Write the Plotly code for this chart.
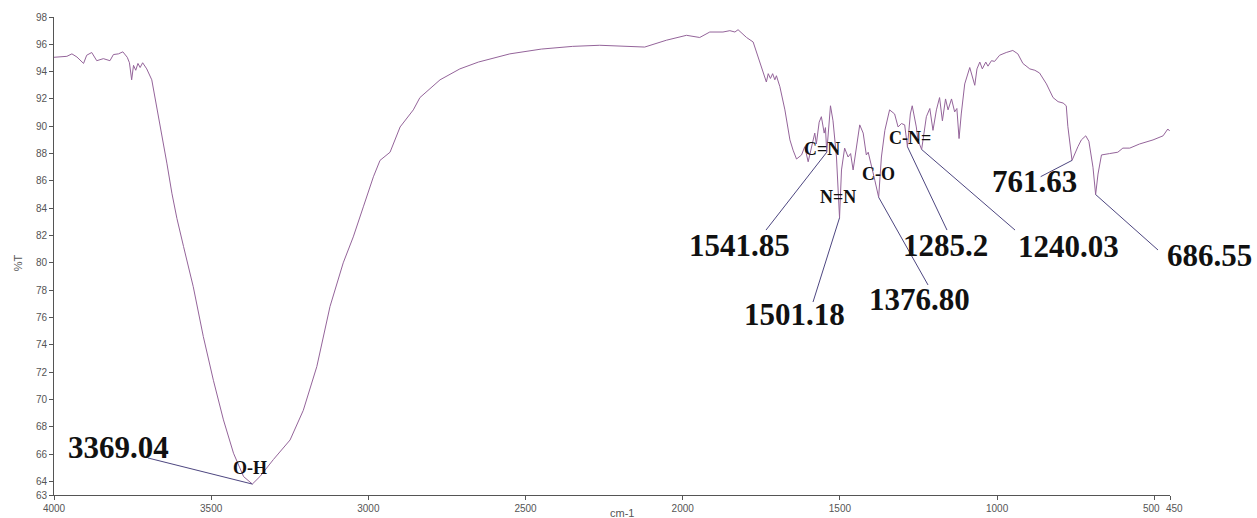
import plotly.graph_objects as go
import numpy as np

# FTIR spectrum: wavenumber (cm-1) and transmittance (%T)
wavenumber = [
    4000, 3959, 3943, 3927, 3906, 3896, 3880, 3864, 3843, 3822, 3811, 3795, 3781,
    3767, 3760, 3753, 3747, 3740, 3733, 3726, 3718, 3705, 3689, 3673, 3657, 3641,
    3625, 3609, 3588, 3557, 3525, 3493, 3461, 3429, 3397, 3369.04, 3345, 3302,
    3249, 3207, 3164, 3122, 3080, 3048, 3016, 2984, 2963, 2931, 2899, 2857, 2836,
    2772, 2709, 2650, 2550, 2450, 2350, 2264, 2121, 2052, 1988, 1946, 1914, 1872,
    1850, 1834, 1824, 1797, 1776, 1760, 1744, 1734, 1728, 1721, 1714, 1707, 1702,
    1691, 1675, 1659, 1649, 1638, 1622, 1612, 1601, 1590, 1580, 1575, 1566, 1559,
    1550, 1546, 1541.85, 1530, 1522, 1511, 1501.18, 1495, 1485, 1474, 1466, 1458,
    1447, 1437, 1426, 1416, 1410, 1400, 1389, 1376.80, 1368, 1357, 1342, 1326,
    1315, 1304, 1294, 1285.2, 1276, 1270, 1257, 1252, 1240.03, 1225, 1214, 1204,
    1193, 1183, 1174, 1164, 1156, 1145, 1135, 1128, 1121, 1114, 1103, 1087, 1079,
    1071, 1064, 1055, 1047, 1036, 1029, 1018, 1008, 992, 971, 950, 934, 918, 896,
    880, 865, 843, 822, 806, 790, 780, 775, 761.63, 743, 732, 718, 708, 695,
    686.55, 679, 668, 642, 616, 600, 578, 547, 504, 472, 457, 451,
]
transmittance = [
    95.05, 95.12, 95.30, 95.07, 94.60, 95.20, 95.40, 94.80, 94.95, 94.80, 95.25, 95.30, 95.45,
    95.05, 94.65, 93.40, 94.46, 94.10, 94.60, 94.30, 94.65, 94.20, 93.40, 91.40, 89.50, 87.30,
    85.10, 83.25, 81.20, 78.25, 74.60, 71.40, 68.50, 66.06, 64.35, 63.80, 64.35, 65.60,
    67.03, 69.20, 72.40, 76.80, 80.00, 81.90, 84.10, 86.30, 87.50, 88.10, 89.95, 91.20, 92.10,
    93.40, 94.20, 94.70, 95.30, 95.65, 95.85, 95.93, 95.80, 96.30, 96.66, 96.50, 96.90, 96.90,
    97.00, 96.90, 97.07, 96.50, 96.17, 95.07, 93.85, 93.24, 93.85, 93.50, 93.85, 93.40, 93.70,
    92.90, 91.20, 89.00, 88.25, 87.60, 87.90, 88.50, 87.40, 88.40, 89.50, 88.70, 90.30, 90.70,
    89.50, 89.90, 88.10, 91.50, 90.40, 87.75, 83.30, 86.80, 88.40, 87.75, 88.00, 86.80,
    88.70, 90.10, 89.50, 87.90, 88.10, 87.00, 86.05, 84.80, 87.75, 89.70, 91.20, 90.90,
    89.95, 90.20, 90.10, 88.50, 90.90, 91.50, 89.95, 89.00, 88.30, 90.70, 91.30, 89.70,
    91.20, 92.10, 90.40, 92.00, 91.20, 92.00, 91.05, 91.30, 89.10, 90.90, 93.10, 94.30, 93.60,
    93.00, 94.20, 94.70, 94.20, 94.70, 94.40, 94.80, 94.75, 95.20, 95.40, 95.55, 95.30, 94.60, 94.20,
    94.10, 93.90, 93.10, 92.10, 91.80, 91.70, 91.50, 90.00, 87.50, 88.50, 89.00, 89.30, 88.90, 87.00,
    85.00, 86.50, 87.90, 88.00, 88.10, 88.40, 88.40, 88.70, 89.00, 89.30, 89.80, 89.65,
]

# Labelled band positions (cm-1)
peak_labels = ["3369.04", "1541.85", "1501.18", "1376.80", "1285.2", "1240.03", "761.63", "686.55"]

# Functional-group assignments
group_labels = ["O-H", "C=N", "N=N", "C-O", "C-N="]

# Axis ticks (the two crowded ticks at the right end get hand-placed labels)
x_ticks = [4000, 3500, 3000, 2500, 2000, 1500, 1000, 500, 450]
x_tick_text = ["4000", "3500", "3000", "2500", "2000", "1500", "1000", "", ""]
end_tick_labels = ["500", "450"]
y_ticks = [63] + list(range(64, 99, 2))

# Placement of the band labels: text anchor (wn, %T), leader-line start (wn, %T), x anchor
peak_label_layout = [
    dict(text=(3794.8, 66.45), start=(3701.0, 65.71), xanchor="center"),
    dict(text=(1819.4, 81.28), start=(1735.1, 82.40), xanchor="center"),
    dict(text=(1642.9, 76.23), start=(1585.6, 77.13), xanchor="center"),
    dict(text=(1248.4, 77.32), start=(1219.8, 78.38), xanchor="center"),
    dict(text=(1164.1, 81.28), start=(1159.4, 82.40), xanchor="center"),
    dict(text=(772.9, 81.17), start=(943.0, 82.40), xanchor="center"),
    dict(text=(881.0, 85.93), start=(861.3, 86.31), xanchor="center"),
    dict(text=(466.1, 80.55), start=(488.2, 80.94), xanchor="left"),
]
group_label_layout = [
    (3375.0, 64.95), (1557.0, 88.30), (1506.0, 84.85), (1375.7, 86.50), (1275.5, 89.13),
]

wn_arr = np.array(wavenumber)
t_arr = np.array(transmittance)
order = np.argsort(wn_arr)

fig = go.Figure()

fig.add_trace(go.Scatter(
    x=wavenumber, y=transmittance, mode="lines",
    line=dict(color="#94649a", width=1), hoverinfo="x+y",
))

serif = "Liberation Serif, Times New Roman, serif"
annotations = []
for label, place in zip(peak_labels, peak_label_layout):
    wn_peak = float(label)
    t_peak = float(np.interp(wn_peak, wn_arr[order], t_arr[order]))
    sx, sy = place["start"]
    fig.add_trace(go.Scatter(
        x=[sx, wn_peak], y=[sy, t_peak], mode="lines",
        line=dict(color="#4d4680", width=1), hoverinfo="skip",
    ))
    tx, ty = place["text"]
    annotations.append(dict(
        x=tx, y=ty, xref="x", yref="y", text="<b>%s</b>" % label,
        showarrow=False, xanchor=place["xanchor"], yanchor="middle",
        font=dict(family=serif, size=31, color="#111111"),
    ))

for label, (gx, gy) in zip(group_labels, group_label_layout):
    annotations.append(dict(
        x=gx, y=gy, xref="x", yref="y", text="<b>%s</b>" % label,
        showarrow=False, xanchor="center", yanchor="middle",
        font=dict(family=serif, size=18, color="#111111"),
    ))

axis_font = dict(family="Liberation Sans, Arial, sans-serif", size=10, color="#555555")

# Right-end tick labels: "500" sits just left of its tick, "450" just right of its tick
for text, wn_tick, anchor, shift in zip(end_tick_labels, x_ticks[-2:], ["right", "left"], [7, -5]):
    annotations.append(dict(
        x=wn_tick, y=0, xref="x", yref="paper", yshift=-13, xshift=shift,
        text=text, showarrow=False, xanchor=anchor, yanchor="middle",
        borderpad=0, font=axis_font,
    ))

annotations.append(dict(
    x=-0.0323, y=0.487, xref="paper", yref="paper", text="%T", textangle=-90,
    showarrow=False, xanchor="center", yanchor="middle",
    font=dict(family="Liberation Sans, Arial, sans-serif", size=11, color="#555555"),
))
annotations.append(dict(
    x=0.509, y=-0.038, xref="paper", yref="paper", text="cm-1",
    showarrow=False, xanchor="center", yanchor="middle",
    font=dict(family="Liberation Sans, Arial, sans-serif", size=11, color="#555555"),
))

fig.update_layout(
    width=1257, height=518,
    margin=dict(l=54, r=87, t=17, b=23),
    paper_bgcolor="white", plot_bgcolor="white",
    showlegend=False,
    annotations=annotations,
    xaxis=dict(
        range=[4000, 450], tickmode="array", tickvals=x_ticks,
        ticktext=x_tick_text, tickangle=0, automargin=False,
        ticks="outside", ticklen=4, tickcolor="#555555",
        showline=True, linecolor="#555555", linewidth=1,
        showgrid=False, zeroline=False, tickfont=axis_font,
    ),
    yaxis=dict(
        range=[63, 98], tickmode="array", tickvals=y_ticks, automargin=False,
        ticks="outside", ticklen=4, tickcolor="#555555",
        showline=True, linecolor="#555555", linewidth=1,
        showgrid=False, zeroline=False, tickfont=axis_font,
    ),
)

fig.write_html("out.html")
